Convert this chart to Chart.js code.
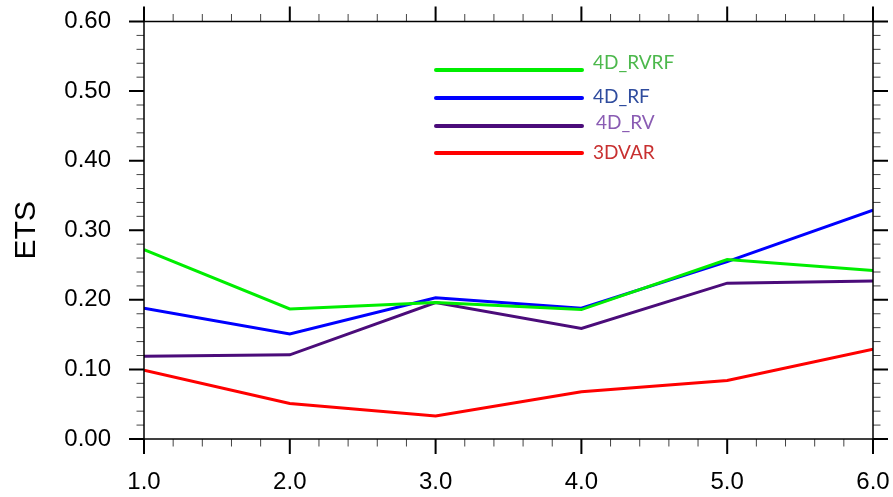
<!DOCTYPE html>
<html>
<head>
<meta charset="utf-8">
<script src="https://cdn.jsdelivr.net/npm/chart.js@4/dist/chart.umd.min.js"></script>
<style>
html, body { margin: 0; padding: 0; background: #fff; }
</style>
</head>
<body>
<canvas id="myChart" width="893" height="497"></canvas>
<script>
// values
const xValues = [1, 2, 3, 4, 5, 6]
const rvrfValues = [0.272, 0.187, 0.196, 0.186, 0.258, 0.242]
const rfValues = [0.188, 0.151, 0.203, 0.188, 0.255, 0.329]
const rvValues = [0.119, 0.121, 0.196, 0.159, 0.224, 0.227]
const var3dValues = [0.099, 0.051, 0.033, 0.068, 0.084, 0.129]
const seriesNames = ['4D_RVRF', '4D_RF', '4D_RV', '3DVAR']

const toPoints = vals => vals.map((v, i) => ({x: xValues[i], y: v}))

let ctx = document.getElementById('myChart').getContext('2d')

// box with major/minor ticks on all four sides
const frameTicks = {
    id: 'frameTicks',
    afterDraw(chart) {
        const {ctx, chartArea: a, scales: {x, y}} = chart
        ctx.save()
        for (let i = 0; i <= 25; i++) {
            const px = x.getPixelForValue(1 + i * 0.2)
            const major = i % 5 === 0
            const len = major ? 15 : 7.5
            ctx.lineWidth = major ? 2 : 1
            ctx.strokeStyle = major ? '#000' : '#444'
            ctx.beginPath()
            ctx.moveTo(px, a.bottom); ctx.lineTo(px, a.bottom + len)
            ctx.moveTo(px, a.top); ctx.lineTo(px, a.top - len)
            ctx.stroke()
        }
        for (let i = 0; i <= 30; i++) {
            const py = y.getPixelForValue(i * 0.02)
            const major = i % 5 === 0
            const len = major ? 15 : 7.5
            ctx.lineWidth = major ? 2 : 1
            ctx.strokeStyle = major ? '#000' : '#444'
            ctx.beginPath()
            ctx.moveTo(a.left, py); ctx.lineTo(a.left - len, py)
            ctx.moveTo(a.right, py); ctx.lineTo(a.right + len, py)
            ctx.stroke()
        }
        ctx.lineWidth = 1.5
        ctx.strokeStyle = '#000'
        ctx.strokeRect(a.left, a.top, a.right - a.left, a.bottom - a.top)
        ctx.restore()
    }
}

// legend drawn inside the plot, in the reference's order
const lineLegend = {
    id: 'lineLegend',
    afterDatasetsDraw(chart) {
        const ctx = chart.ctx
        const lineY = [70, 98, 126, 153]
        const textY = [63, 97, 123, 153]
        const textX = [593, 593, 596, 593]
        ctx.save()
        chart.data.datasets.forEach((ds, i) => {
            ctx.strokeStyle = ds.borderColor
            ctx.lineWidth = 4
            ctx.lineCap = 'round'
            ctx.beginPath()
            ctx.moveTo(436, lineY[i])
            ctx.lineTo(582, lineY[i])
            ctx.stroke()
            ctx.fillStyle = ds.textColor
            ctx.font = '19px Lato'
            ctx.textBaseline = 'middle'
            ctx.fillText(ds.label, textX[i], textY[i])
        })
        ctx.restore()
    }
}

let chartData = {
    datasets: [
        {label: seriesNames[0], data: toPoints(rvrfValues), borderColor: '#00ee00', textColor: '#4cb84c'},
        {label: seriesNames[1], data: toPoints(rfValues), borderColor: '#0000ff', textColor: '#2f4c9e'},
        {label: seriesNames[2], data: toPoints(rvValues), borderColor: '#4b0c7a', textColor: '#8a5cb3'},
        {label: seriesNames[3], data: toPoints(var3dValues), borderColor: '#ff0000', textColor: '#c83030'}
    ].map(d => Object.assign(d, {borderWidth: 3, pointRadius: 0, tension: 0, fill: false}))
}

const tickFont = {family: 'Liberation Sans', size: 24}

let myChart = new Chart(ctx, {
    type: 'line',
    data: chartData,
    options: {
        responsive: false,
        animation: false,
        devicePixelRatio: 1,
        layout: {padding: {top: 21.5, right: 20, left: 0, bottom: 0}},
        plugins: {legend: {display: false}, tooltip: {enabled: false}},
        scales: {
            x: {
                type: 'linear', min: 1, max: 6,
                grid: {display: false, drawTicks: false},
                border: {display: false},
                ticks: {stepSize: 1, padding: 29, color: '#000', font: tickFont, maxRotation: 0, autoSkip: false,
                    callback: v => v.toFixed(1)},
                afterFit: s => { s.height = 58; s.paddingLeft = 0; s.paddingRight = 0 }
            },
            y: {
                min: 0, max: 0.6,
                grid: {display: false, drawTicks: false},
                border: {display: false},
                ticks: {stepSize: 0.1, padding: 33, color: '#000', font: tickFont,
                    callback: v => v.toFixed(2)},
                title: {display: true, text: 'ETS', color: '#000',
                    font: {family: 'Liberation Sans', size: 30}, padding: {top: 9, bottom: 0}},
                afterFit: s => { s.width = 144; s.paddingTop = 0; s.paddingBottom = 0 }
            }
        }
    },
    plugins: [lineLegend, frameTicks]
})
</script>
</body>
</html>
